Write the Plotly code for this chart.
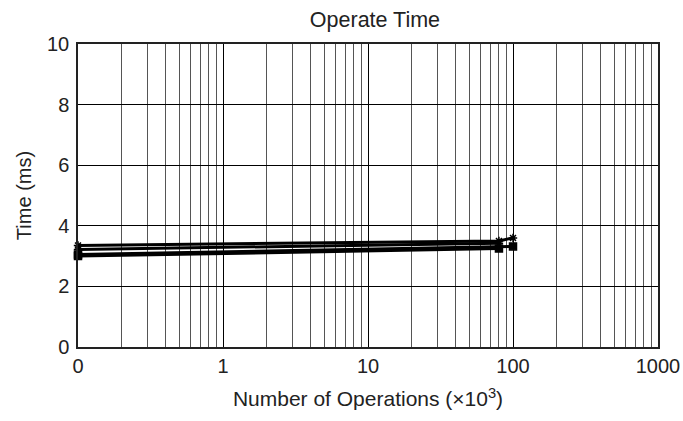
import plotly.graph_objects as go

# Data (x in thousands of operations; 0.1 plotted at the "0" position of the log axis)
x_a = [0.1, 80, 100]
y_a = [3.35, 3.5, 3.6]
x_b = [0.1, 80]
y_b = [3.22, 3.42]
x_c = [0.1, 100]
y_c = [3.05, 3.32]
x_d = [0.1, 80]
y_d = [3.0, 3.25]

x_tickvals = [0.1, 1, 10, 100, 1000]
x_ticktext = ["0", "1", "10", "100", "1000"]
y_tickvals = [0, 2, 4, 6, 8, 10]

minor_vals = [m * 10 ** e for e in range(-1, 3) for m in range(2, 10)]

fig = go.Figure()
series = [
    (x_a, y_a, "asterisk-open"),
    (x_b, y_b, "asterisk-open"),
    (x_c, y_c, "square"),
    (x_d, y_d, "square"),
]
for xs, ys, sym in series:
    fig.add_trace(go.Scatter(
        x=xs, y=ys, mode="lines+markers",
        line=dict(color="black", width=3),
        marker=dict(symbol=sym, size=7, color="black",
                    line=dict(color="black", width=1.5)),
        showlegend=False, cliponaxis=False,
    ))

fig.update_layout(
    width=683, height=421,
    margin=dict(l=78, r=25, t=44, b=74, autoexpand=False),
    paper_bgcolor="white", plot_bgcolor="white",
    font=dict(family="Liberation Sans, Arial, sans-serif", color="#222", size=20),
    title=dict(text="Operate Time", x=0.549, xanchor="center", y=0.953, yanchor="middle",
               font=dict(size=21.5)),
)
fig.update_xaxes(
    type="log", range=[-1, 3], automargin=False,
    tickvals=x_tickvals, ticktext=x_ticktext,
    showgrid=True, gridcolor="black", gridwidth=1,
    showline=True, linecolor="#222", linewidth=1.5, mirror=True,
    ticks="", zeroline=False, tickfont=dict(size=20),
    minor=dict(tickvals=minor_vals, showgrid=True, gridcolor="#555", gridwidth=1, ticks=""),
    title=dict(text="Number of Operations (×10<sup>3</sup>)", font=dict(size=21), standoff=16),
)
fig.update_yaxes(
    range=[0, 10], tickvals=y_tickvals, automargin=False,
    showgrid=True, gridcolor="black", gridwidth=1,
    showline=True, linecolor="#222", linewidth=1.5, mirror=True,
    ticks="", zeroline=False, tickfont=dict(size=20), ticklabelstandoff=3,
    title=dict(text="Time (ms)", font=dict(size=20), standoff=10),
)

fig.write_html("out.html", config={"displayModeBar": False},
               post_script="document.body.style.margin='0';")
